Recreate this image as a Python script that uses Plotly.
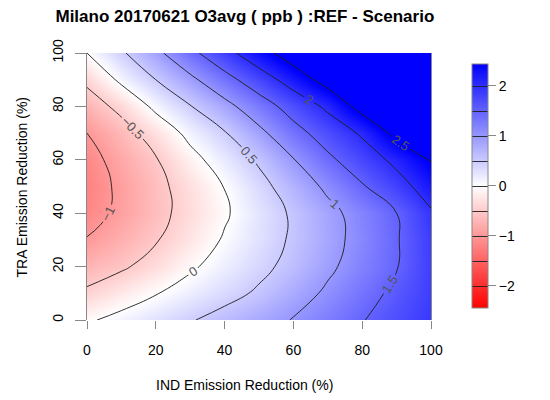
import plotly.graph_objects as go

# reduction grid (%)
ind_reduction = [0, 10, 20, 30, 40, 50, 60, 70, 80, 90, 100]
tra_reduction = [0, 10, 20, 30, 40, 50, 60, 70, 80, 90, 100]

# O3avg difference REF - Scenario (ppb), one row per TRA value
o3_tra_0 = [-0.05, 0.12, 0.29, 0.47, 0.65, 0.83, 1.02, 1.25, 1.48, 1.70, 1.90]
o3_tra_10 = [-0.43, -0.22, -0.02, 0.17, 0.36, 0.56, 0.81, 1.07, 1.33, 1.60, 1.86]
o3_tra_20 = [-0.71, -0.56, -0.33, -0.06, 0.17, 0.39, 0.63, 0.92, 1.20, 1.48, 1.85]
o3_tra_30 = [-0.98, -0.76, -0.53, -0.25, 0.04, 0.29, 0.56, 0.85, 1.15, 1.47, 1.86]
o3_tra_40 = [-1.15, -0.91, -0.63, -0.34, -0.05, 0.26, 0.56, 0.87, 1.18, 1.50, 1.95]
o3_tra_50 = [-1.20, -0.92, -0.62, -0.31, 0.01, 0.36, 0.72, 1.09, 1.46, 1.82, 2.22]
o3_tra_60 = [-1.15, -0.84, -0.53, -0.14, 0.21, 0.56, 0.98, 1.41, 1.76, 2.11, 2.52]
o3_tra_70 = [-1.00, -0.68, -0.30, 0.12, 0.47, 0.89, 1.34, 1.71, 2.06, 2.64, 3.15]
o3_tra_80 = [-0.72, -0.38, 0.10, 0.48, 0.86, 1.28, 1.69, 2.09, 2.69, 3.20, 3.65]
o3_tra_90 = [-0.41, 0.09, 0.50, 0.90, 1.34, 1.76, 2.21, 2.70, 3.20, 3.60, 4.00]
o3_tra_100 = [0.00, 0.44, 0.89, 1.38, 1.84, 2.31, 2.76, 3.20, 3.65, 4.10, 4.50]

z = [o3_tra_0, o3_tra_10, o3_tra_20, o3_tra_30, o3_tra_40, o3_tra_50,
     o3_tra_60, o3_tra_70, o3_tra_80, o3_tra_90, o3_tra_100]

axis_ticks = [0, 20, 40, 60, 80, 100]
bar_ticks = [-2, -1, 0, 1, 2]
zlim = 2.44

font_name = 'Liberation Sans, Arial, Helvetica, sans-serif'

fig = go.Figure()
fig.add_trace(go.Contour(
    x=ind_reduction, y=tra_reduction, z=z,
    zmin=-zlim, zmax=zlim, zauto=False,
    colorscale=[[0, 'rgb(255,0,0)'], [0.5, 'rgb(255,255,255)'], [1, 'rgb(0,0,255)']],
    autocontour=False,
    contours=dict(start=-2.5, end=2.5, size=0.5, coloring='heatmap',
                  showlabels=True, labelformat='~g',
                  labelfont=dict(size=13, color='#555555', family=font_name)),
    line=dict(color='rgba(30,30,30,0.9)', width=1, smoothing=1.3),
    colorbar=dict(tickvals=bar_ticks, ticks='outside', ticklen=8, tickcolor='#888888',
                  outlinecolor='#888888', outlinewidth=1, thickness=16,
                  len=0.914, lenmode='fraction', x=1.119, xanchor='left', xpad=0,
                  y=0.502, yanchor='middle', ypad=0,
                  tickfont=dict(size=14, color='black', family=font_name)),
    hoverinfo='skip'))

# the page body adds an 8px offset, so margins are shifted to compensate
fig.update_layout(
    width=550, height=400,
    margin=dict(l=79, r=127, t=45, b=88),
    paper_bgcolor='white', plot_bgcolor='white',
    font=dict(family=font_name, size=14, color='black'),
    title=dict(text='<b>Milano 20170621 O3avg ( ppb ) :REF - Scenario</b>',
               xref='paper', x=0.459, xanchor='center',
               yref='container', y=0.98, yanchor='middle',
               font=dict(size=17, family=font_name, color='black')),
    showlegend=False)

fig.update_xaxes(range=[0, 100], tickvals=axis_ticks, ticks='outside', ticklen=8,
                 tickcolor='#888888', showgrid=False, zeroline=False, showline=False,
                 ticklabelstandoff=9, tickfont=dict(size=14))
fig.update_yaxes(range=[0, 100], tickvals=axis_ticks, ticks='outside', ticklen=11,
                 tickcolor='#888888', showgrid=False, zeroline=False,
                 showline=True, linecolor='#888888', linewidth=1, mirror=True,
                 tickangle=-90, ticklabelstandoff=6, tickfont=dict(size=14))

fig.add_annotation(text='IND Emission Reduction (%)', xref='paper', yref='paper',
                   x=0.459, y=-0.243, showarrow=False, font=dict(size=14),
                   xanchor='center', yanchor='middle')
fig.add_annotation(text='TRA Emission Reduction (%)', xref='paper', yref='paper',
                   x=-0.189, y=0.5, showarrow=False, font=dict(size=14),
                   textangle=-90, xanchor='center', yanchor='middle')

fig.write_html("out.html")
